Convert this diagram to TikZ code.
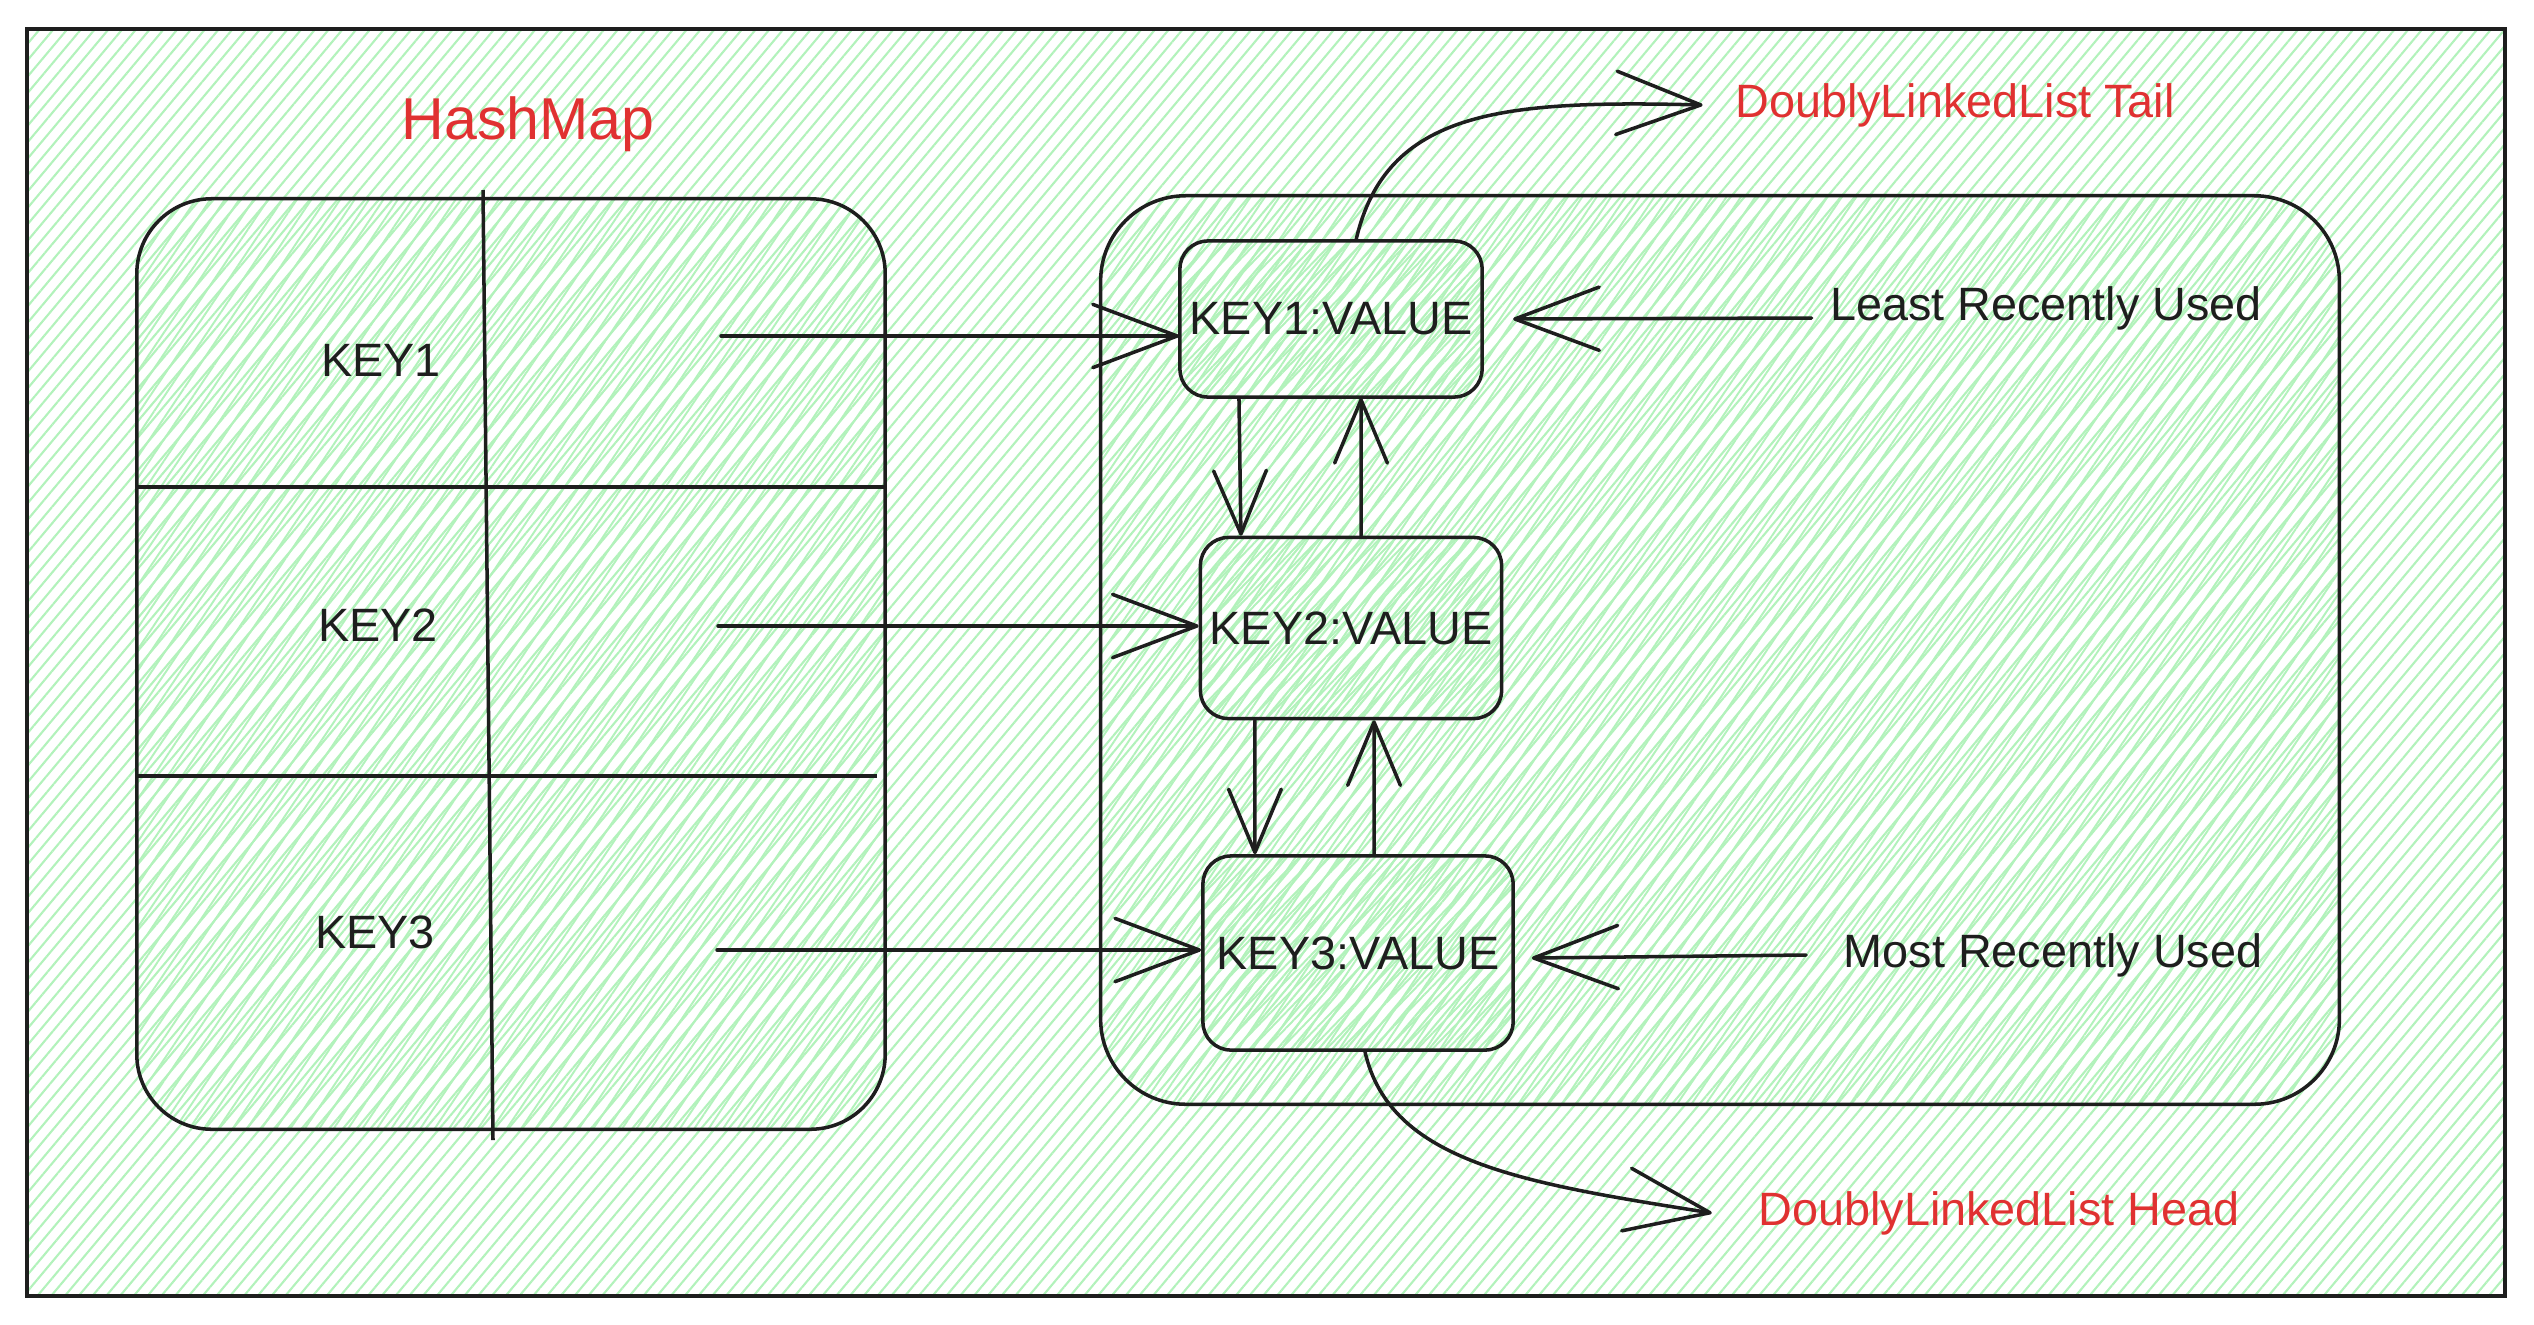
\documentclass[tikz,border=0pt]{standalone}
\usepackage{fontspec}
\setmainfont{Liberation Sans}
\usetikzlibrary{arrows.meta, patterns.meta}
\definecolor{ink}{HTML}{1E1E1E}
\definecolor{hatch}{HTML}{B2F2BB}
\definecolor{alert}{HTML}{E03131}
\tikzstyle{frame} = [draw=ink, line width=1pt, pattern={Lines[angle=50, distance=3pt, line width=0.6pt]}, pattern color=hatch]
\tikzstyle{hashbox} = [rectangle, rounded corners=0.75cm, minimum width=7.48cm, minimum height=9.30cm, draw=ink, line width=1pt, pattern={Lines[angle=56, distance=3.4pt, line width=0.55pt]}, pattern color=hatch]
\tikzstyle{listbox} = [rectangle, rounded corners=0.85cm, minimum width=12.38cm, minimum height=9.08cm, draw=ink, line width=1pt, pattern={Lines[angle=56, distance=3.4pt, line width=0.55pt]}, pattern color=hatch]
\tikzstyle{entry} = [rectangle, rounded corners=0.28cm, draw=ink, line width=1pt, text=ink, inner sep=0pt, font=\fontsize{13.3pt}{16pt}\selectfont, pattern={Lines[angle=46, distance=3.1pt, line width=0.55pt]}, pattern color=hatch]
\tikzstyle{caption} = [inner sep=0pt, text=ink, font=\fontsize{13.3pt}{16pt}\selectfont]
\tikzstyle{redcaption} = [inner sep=0pt, text=alert, font=\fontsize{13.3pt}{16pt}\selectfont]
\tikzstyle{divider} = [draw=ink, line width=1pt]
\tikzstyle{arrow} = [draw=ink, line width=1pt, line cap=round, -{Straight Barb[length=24pt, width=18pt, round]}]
\tikzstyle{link} = [draw=ink, line width=1pt, line cap=round, -{Straight Barb[length=18pt, width=15pt, round]}]

\begin{document}
\begin{tikzpicture}[x=0.01cm, y=-0.01cm]
    \useasboundingbox (0,0) rectangle (2534,1324);

    % Background
    \draw [frame] (27,29) rectangle (2505,1296);

    % HashMap
    \node (title) [redcaption, font=\fontsize{16.8pt}{20pt}\selectfont] at (528,124) {HashMap};
    \node (hashmap) [hashbox] at (511,664) {};
    \draw [divider] (483,190) -- (493,1140);
    \draw [divider] (137,487) -- (885,487);
    \draw [divider] (135,776) -- (877,776);

    \node (key1) [caption] at (381,360) {KEY1};
    \node (key2) [caption] at (378,625) {KEY2};
    \node (key3) [caption] at (375,932) {KEY3};
    \coordinate (val1) at (721,336);
    \coordinate (val2) at (718,626);
    \coordinate (val3) at (717,950);

    % Doubly linked list
    \node (cache) [listbox] at (1720,650) {};
    \node (kv1) [entry, minimum width=3.02cm, minimum height=1.56cm] at (1331,319) {KEY1:VALUE};
    \node (kv2) [entry, minimum width=3.01cm, minimum height=1.81cm] at (1351,628) {KEY2:VALUE};
    \node (kv3) [entry, minimum width=3.10cm, minimum height=1.94cm] at (1358,953) {KEY3:VALUE};

    \node (lru) [caption] at (2046,308) {Least Recently Used};
    \node (mru) [caption] at (2053,955) {Most Recently Used};
    \node (tail) [redcaption] at (1955,105) {DoublyLinkedList Tail};
    \node (head) [redcaption] at (1999,1213) {DoublyLinkedList Head};

    % Arrows
    \draw [arrow] (val1) -- (val1 -| kv1.west);
    \draw [arrow] (val2) -- (val2 -| kv2.west);
    \draw [arrow] (val3) -- (val3 -| kv3.west);

    \draw [link] ([xshift=-0.92cm]kv1.south) -- ([xshift=-1.1cm]kv2.north);
    \draw [link] ([xshift=0.1cm]kv2.north) -- ([xshift=0.3cm]kv1.south);
    \draw [link] ([xshift=-0.96cm]kv2.south) -- ([xshift=-1.03cm]kv3.north);
    \draw [link] ([xshift=0.16cm]kv3.north) -- ([xshift=0.23cm]kv2.south);

    \draw [arrow] ([xshift=-0.18cm, yshift=-0.1cm]lru.west) -- ([xshift=0.3cm]kv1.east);
    \draw [arrow] ([xshift=-0.37cm]mru.west) -- ([xshift=0.17cm, yshift=-0.05cm]kv3.east);

    \draw [arrow] ([xshift=0.25cm]kv1.north) .. controls +(30,-130) and +(-200,-5) .. ([xshift=-0.32cm]tail.west);
    \draw [arrow] ([xshift=0.07cm]kv3.south) .. controls +(25,110) and +(-190,-30) .. ([xshift=-0.46cm]head.west);

\end{tikzpicture}
\end{document}
